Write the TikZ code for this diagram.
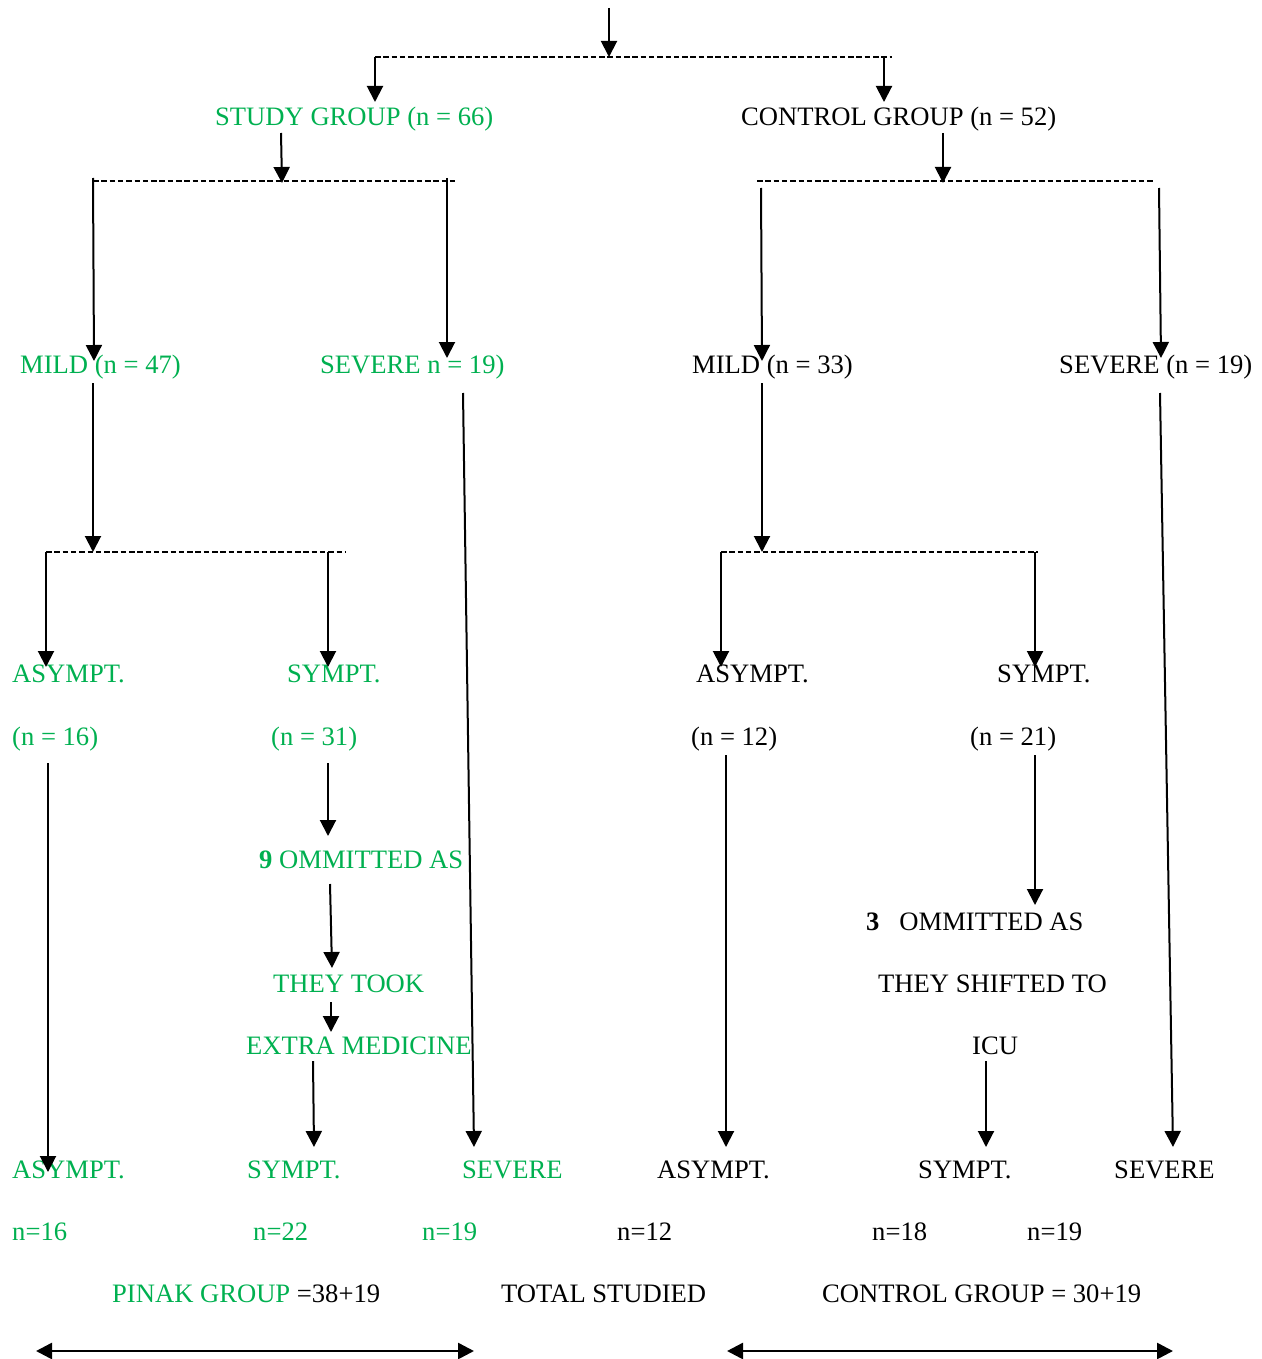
\documentclass[tikz,border=0pt]{standalone}
\usepackage{fontspec}
\setmainfont{Liberation Serif}
\usetikzlibrary{arrows.meta}
\definecolor{grn}{HTML}{00B050}
\begin{document}
\begin{tikzpicture}[x=1pt,y=-1pt,
  lbl/.style={anchor=base west, inner sep=0pt, font=\fontsize{26.6}{32}\selectfont},
  glbl/.style={lbl, text=grn},
  arr/.style={line width=2pt, -{Triangle[length=16pt,width=16pt]}},
  dashln/.style={line width=1.7pt, dash pattern=on 5.5pt off 2.8pt},
  darr/.style={line width=2.6pt, {Triangle[length=16pt,width=16pt]}-{Triangle[length=16pt,width=16pt]}}]
\useasboundingbox (0,0) rectangle (1261,1359);

% ---------- text nodes ----------
\node[glbl] (study) at (215,126) {STUDY GROUP (n = 66)};
\node[lbl]  (control) at (741,126) {CONTROL GROUP (n = 52)};

\node[glbl] (mildS) at (20,373) {MILD (n = 47)};
\node[glbl] (sevS) at (320,373) {SEVERE n = 19)};
\node[lbl]  (mildC) at (692,373) {MILD (n = 33)};
\node[lbl]  (sevC) at (1059,373) {SEVERE (n = 19)};

\node[glbl] (asyS) at (12,682) {ASYMPT.};
\node[glbl] (symS) at (287,682) {SYMPT.};
\node[lbl]  (asyC) at (696,682) {ASYMPT.};
\node[lbl]  (symC) at (997,682) {SYMPT.};

\node[glbl] (asySn) at (12,745) {(n = 16)};
\node[glbl] (symSn) at (271,745) {(n = 31)};
\node[lbl]  (asyCn) at (691,745) {(n = 12)};
\node[lbl]  (symCn) at (970,745) {(n = 21)};

\node[glbl] (omS) at (259,868) {\textbf{9} OMMITTED AS};
\node[glbl] (tookS) at (273,992) {THEY TOOK};
\node[glbl] (extraS) at (246,1054) {EXTRA MEDICINE};

\node[lbl] (omC) at (866,930) {\textbf{3}~~~OMMITTED AS};
\node[lbl] (shiftC) at (878,992) {THEY SHIFTED TO};
\node[lbl] (icuC) at (972,1054) {ICU};

\node[glbl] (fAsyS) at (12,1178) {ASYMPT.};
\node[glbl] (fSymS) at (247,1178) {SYMPT.};
\node[glbl] (fSevS) at (462,1178) {SEVERE};
\node[lbl]  (fAsyC) at (657,1178) {ASYMPT.};
\node[lbl]  (fSymC) at (918,1178) {SYMPT.};
\node[lbl]  (fSevC) at (1114,1178) {SEVERE};

\node[glbl] (n1) at (12,1240) {n=16};
\node[glbl] (n2) at (253,1240) {n=22};
\node[glbl] (n3) at (422,1240) {n=19};
\node[lbl]  (n4) at (617,1240) {n=12};
\node[lbl]  (n5) at (872,1240) {n=18};
\node[lbl]  (n6) at (1027,1240) {n=19};

\node[lbl] (pinak) at (112,1302) {\textcolor{grn}{PINAK GROUP }=38+19};
\node[lbl] (total) at (501,1302) {TOTAL STUDIED};
\node[lbl] (ctrlsum) at (822,1302) {CONTROL GROUP = 30+19};

% ---------- coordinates ----------
\coordinate (top) at (609,8);
\coordinate (d1m) at (609,57);
\coordinate (d1l) at (375,57);
\coordinate (d1r) at (892,57);
\coordinate (d1rr) at (884,57);
\coordinate (studyTip) at (375,102);
\coordinate (controlTip) at (884,102);

\coordinate (sA) at (281,133);
\coordinate (sB) at (282,183);
\coordinate (d2l) at (93,181);
\coordinate (d2r) at (455,181);
\coordinate (d2a) at (93,178);
\coordinate (d2b) at (447,178);
\coordinate (mildSTip) at (94,361);
\coordinate (sevSTip) at (447,358);

\coordinate (cA) at (943,133);
\coordinate (cB) at (943,183);
\coordinate (d3l) at (757,181);
\coordinate (d3r) at (1155,181);
\coordinate (d3a) at (761,188);
\coordinate (d3b) at (1159,188);
\coordinate (mildCTip) at (762,361);
\coordinate (sevCTip) at (1161,358);

\coordinate (mSA) at (93,383);
\coordinate (mSB) at (93,552);
\coordinate (d4l) at (46,552);
\coordinate (d4r) at (346,552);
\coordinate (d4a) at (328,552);
\coordinate (asySTip) at (46,667);
\coordinate (symSTip) at (328,667);

\coordinate (mCA) at (762,383);
\coordinate (mCB) at (762,552);
\coordinate (d5l) at (721,552);
\coordinate (d5r) at (1038,552);
\coordinate (d5a) at (1035,552);
\coordinate (asyCTip) at (721,667);
\coordinate (symCTip) at (1035,667);

\coordinate (sevSA) at (463,393);
\coordinate (sevSB) at (474,1147);
\coordinate (sevCA) at (1160,393);
\coordinate (sevCB) at (1173,1147);

\coordinate (a16A) at (48,763);
\coordinate (a16B) at (48,1172);
\coordinate (s31A) at (328,763);
\coordinate (s31B) at (328,836);
\coordinate (omSA) at (330,884);
\coordinate (omSB) at (332,968);
\coordinate (tkA) at (331,1002);
\coordinate (tkB) at (331,1032);
\coordinate (exA) at (313,1061);
\coordinate (exB) at (314,1147);

\coordinate (a12A) at (726,755);
\coordinate (a12B) at (726,1147);
\coordinate (s21A) at (1035,755);
\coordinate (s21B) at (1035,905);
\coordinate (icuA) at (986,1061);
\coordinate (icuB) at (986,1147);

\coordinate (bl1) at (36,1351);
\coordinate (bl2) at (474,1351);
\coordinate (br1) at (727,1351);
\coordinate (br2) at (1173,1351);

% ---------- connectors ----------
\draw[arr] (top) -- (d1m);
\draw[dashln] (d1l) -- (d1r);
\draw[arr] (d1l) -- (studyTip);
\draw[arr] (d1rr) -- (controlTip);

\draw[arr] (sA) -- (sB);
\draw[dashln] (d2l) -- (d2r);
\draw[arr] (d2a) -- (mildSTip);
\draw[arr] (d2b) -- (sevSTip);

\draw[arr] (cA) -- (cB);
\draw[dashln] (d3l) -- (d3r);
\draw[arr] (d3a) -- (mildCTip);
\draw[arr] (d3b) -- (sevCTip);

\draw[arr] (mSA) -- (mSB);
\draw[dashln] (d4l) -- (d4r);
\draw[arr] (d4l) -- (asySTip);
\draw[arr] (d4a) -- (symSTip);

\draw[arr] (mCA) -- (mCB);
\draw[dashln] (d5l) -- (d5r);
\draw[arr] (d5l) -- (asyCTip);
\draw[arr] (d5a) -- (symCTip);

\draw[arr] (sevSA) -- (sevSB);
\draw[arr] (sevCA) -- (sevCB);

\draw[arr] (a16A) -- (a16B);
\draw[arr] (s31A) -- (s31B);
\draw[arr] (omSA) -- (omSB);
\draw[arr] (tkA) -- (tkB);
\draw[arr] (exA) -- (exB);

\draw[arr] (a12A) -- (a12B);
\draw[arr] (s21A) -- (s21B);
\draw[arr] (icuA) -- (icuB);

\draw[darr] (bl1) -- (bl2);
\draw[darr] (br1) -- (br2);
\end{tikzpicture}
\end{document}
